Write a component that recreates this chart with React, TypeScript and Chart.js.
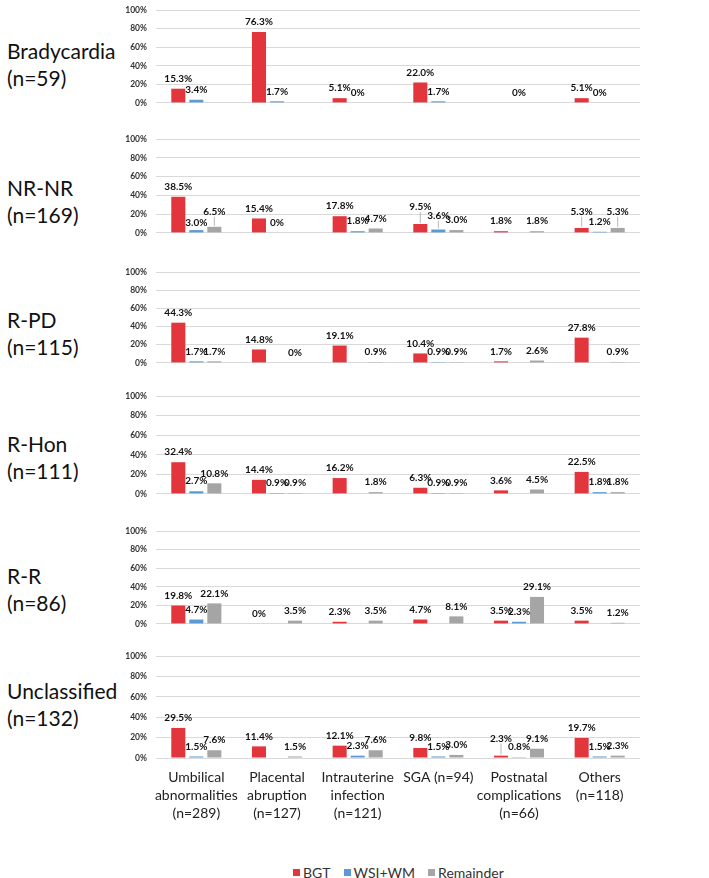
import React, { useEffect, useRef } from 'react';
import { Chart, registerables } from 'chart.js';

Chart.register(...registerables);

// ---------- data ----------
const categories: string[][] = [
  ['Umbilical', 'abnormalities', '(n=289)'],
  ['Placental', 'abruption', '(n=127)'],
  ['Intrauterine', 'infection', '(n=121)'],
  ['SGA (n=94)'],
  ['Postnatal', 'complications', '(n=66)'],
  ['Others', '(n=118)'],
];
const seriesNames = ['BGT', 'WSI+WM', 'Remainder'];
const panelNames: string[][] = [
  ['Bradycardia', '(n=59)'],
  ['NR-NR', '(n=169)'],
  ['R-PD', '(n=115)'],
  ['R-Hon', '(n=111)'],
  ['R-R', '(n=86)'],
  ['Unclassified', '(n=132)'],
];
const yTickValues = [0, 20, 40, 60, 80, 100];

type V = number | null;
const bradycardiaBGT: V[] = [15.3, 76.3, 5.1, 22.0, null, 5.1];
const bradycardiaWSI: V[] = [3.4, 1.7, 0, 1.7, 0, 0];
const bradycardiaRem: V[] = [null, null, null, null, null, null];

const nrnrBGT: V[] = [38.5, 15.4, 17.8, 9.5, 1.8, 5.3];
const nrnrWSI: V[] = [3.0, 0, 1.8, 3.6, null, 1.2];
const nrnrRem: V[] = [6.5, null, 4.7, 3.0, 1.8, 5.3];

const rpdBGT: V[] = [44.3, 14.8, 19.1, 10.4, 1.7, 27.8];
const rpdWSI: V[] = [1.7, null, null, 0.9, null, null];
const rpdRem: V[] = [1.7, 0, 0.9, 0.9, 2.6, 0.9];

const rhonBGT: V[] = [32.4, 14.4, 16.2, 6.3, 3.6, 22.5];
const rhonWSI: V[] = [2.7, 0.9, null, 0.9, null, 1.8];
const rhonRem: V[] = [10.8, 0.9, 1.8, 0.9, 4.5, 1.8];

const rrBGT: V[] = [19.8, 0, 2.3, 4.7, 3.5, 3.5];
const rrWSI: V[] = [4.7, null, null, null, 2.3, null];
const rrRem: V[] = [22.1, 3.5, 3.5, 8.1, 29.1, 1.2];

const unclassifiedBGT: V[] = [29.5, 11.4, 12.1, 9.8, 2.3, 19.7];
const unclassifiedWSI: V[] = [1.5, null, 2.3, 1.5, 0.8, 1.5];
const unclassifiedRem: V[] = [7.6, 1.5, 7.6, 3.0, 9.1, 2.3];

const panelSeries: V[][][] = [
  [bradycardiaBGT, bradycardiaWSI, bradycardiaRem],
  [nrnrBGT, nrnrWSI, nrnrRem],
  [rpdBGT, rpdWSI, rpdRem],
  [rhonBGT, rhonWSI, rhonRem],
  [rrBGT, rrWSI, rrRem],
  [unclassifiedBGT, unclassifiedWSI, unclassifiedRem],
];

// ---------- styles / layout ----------
const COLORS = ['#e3353c', '#5b9bd5', '#a5a5a5'];
const GRID_TOP = [6, 135, 268, 392, 527, 652];
const GRID_BOTTOM = [107, 237, 367, 498, 628, 758];
const LABEL_CENTER = [51, 188, 320, 444, 576, 691];
const PAD = 10;
const CANVAS_LEFT = 110;
const CANVAS_WIDTH = 540;
const Y_AXIS_WIDTH = 46;
const X_AXIS_HEIGHT = 72;
// labels lifted with a leader line: [panel, series, category, lift]
const leaderLabels: number[][] = [
  [1, 2, 0, 15],
  [1, 0, 3, 17],
  [1, 1, 3, 14],
  [1, 0, 5, 16],
  [1, 2, 5, 16],
  [5, 0, 4, 17],
];
const lowerLabels: number[][] = [
  [1, 1, 0, 7],
];

function fmt(v: number) {
  return v === 0 ? '0%' : v.toFixed(1) + '%';
}

function Panel({ index }: { index: number }) {
  const ref = useRef<HTMLCanvasElement | null>(null);
  const last = index === panelSeries.length - 1;
  const top = GRID_TOP[index] - PAD;
  const plotH = GRID_BOTTOM[index] - GRID_TOP[index];
  const height = plotH + PAD + (last ? X_AXIS_HEIGHT : PAD);

  useEffect(() => {
    if (!ref.current) return;
    const labelPlugin = {
      id: 'valueLabels',
      afterDatasetsDraw(chart: any) {
        const ctx = chart.ctx;
        ctx.save();
        ctx.font = 'bold 10px Lato, "Liberation Sans", sans-serif';
        ctx.fillStyle = '#111111';
        ctx.textAlign = 'center';
        ctx.textBaseline = 'middle';
        chart.data.datasets.forEach((ds: any, si: number) => {
          const meta = chart.getDatasetMeta(si);
          meta.data.forEach((el: any, ci: number) => {
            const v = ds.data[ci];
            if (v === null || v === undefined) return;
            const lead = leaderLabels.find((l) => l[0] === index && l[1] === si && l[2] === ci);
            const low = lowerLabels.find((l) => l[0] === index && l[1] === si && l[2] === ci);
            const lift = lead ? lead[3] : low ? low[3] : 10;
            const y = el.y - lift;
            if (lead) {
              ctx.save();
              ctx.strokeStyle = '#a6a6a6';
              ctx.lineWidth = 0.8;
              ctx.beginPath();
              ctx.moveTo(el.x, el.y - 1);
              ctx.lineTo(el.x, y + 5);
              ctx.stroke();
              ctx.restore();
            }
            ctx.fillText(fmt(v), el.x, y);
          });
        });
        ctx.restore();
      },
    };

    const chart = new Chart(ref.current, {
      type: 'bar',
      data: {
        labels: categories as any,
        datasets: seriesNames.map((name, si) => ({
          label: name,
          data: panelSeries[index][si] as any,
          backgroundColor: COLORS[si],
          borderWidth: 0,
          barPercentage: 0.78,
          categoryPercentage: 0.67,
        })),
      },
      options: {
        responsive: false,
        animation: false,
        layout: { padding: { top: PAD, bottom: last ? 0 : PAD, left: 0, right: 10 } },
        plugins: { legend: { display: false }, tooltip: { enabled: false } },
        scales: {
          x: {
            display: last,
            grid: { display: false, drawTicks: false },
            border: { display: false },
            ticks: {
              display: last,
              autoSkip: false,
              maxRotation: 0,
              padding: 11,
              color: '#222222',
              font: { family: 'Lato, "Liberation Sans", sans-serif', size: 14, lineHeight: 1.28 },
            },
            afterFit: (s: any) => {
              s.height = last ? X_AXIS_HEIGHT : 0;
            },
          },
          y: {
            min: 0,
            max: 100,
            afterBuildTicks: (s: any) => {
              s.ticks = yTickValues.map((v) => ({ value: v }));
            },
            ticks: {
              padding: 9,
              color: '#333333',
              font: { family: 'Lato, "Liberation Sans", sans-serif', size: 8.5, weight: 'bold' },
              callback: (v: any) => v + '%',
            },
            grid: { color: '#d9d9d9', drawTicks: false, lineWidth: 1 },
            border: { display: false },
            afterFit: (s: any) => {
              s.width = Y_AXIS_WIDTH;
            },
          },
        },
      } as any,
      plugins: [labelPlugin],
    });
    return () => chart.destroy();
  }, [index]);

  return (
    <div style={{ position: 'absolute', left: CANVAS_LEFT, top, width: CANVAS_WIDTH, height }}>
      <canvas ref={ref} width={CANVAS_WIDTH} height={height} style={{ display: 'block' }} />
    </div>
  );
}

export default function App() {
  return (
    <div
      style={{
        position: 'absolute',
        left: 0,
        top: 0,
        width: 709,
        height: 878,
        background: '#ffffff',
        overflow: 'hidden',
        fontFamily: 'Lato, "Liberation Sans", sans-serif',
      }}
    >
      {panelNames.map((lines, i) => (
        <div
          key={'lbl' + i}
          style={{
            position: 'absolute',
            left: 7,
            top: LABEL_CENTER[i] - 14,
            fontSize: 21,
            lineHeight: '27px',
            color: '#111',
            whiteSpace: 'nowrap',
          }}
        >
          {lines.map((t, j) => (
            <div key={j}>{t}</div>
          ))}
        </div>
      ))}
      {panelSeries.map((_, i) => (
        <Panel key={i} index={i} />
      ))}
      <div
        style={{
          position: 'absolute',
          left: 293,
          top: 863,
          height: 18,
          display: 'flex',
          alignItems: 'center',
          fontSize: 14,
          color: '#333333',
        }}
      >
        {seriesNames.map((n, i) => (
          <div key={n} style={{ display: 'flex', alignItems: 'center', marginRight: 13 }}>
            <span style={{ display: 'inline-block', width: 7, height: 7, background: COLORS[i], marginRight: 3 }} />
            <span>{n}</span>
          </div>
        ))}
      </div>
    </div>
  );
}
